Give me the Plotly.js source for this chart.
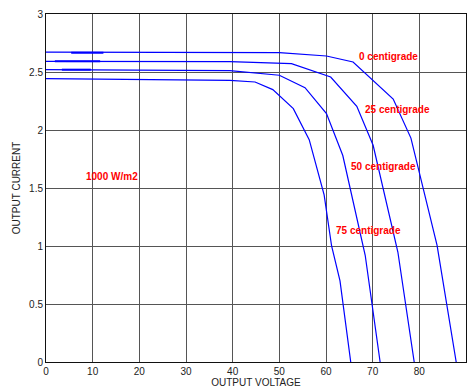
<!DOCTYPE html>
<html>
<head>
<meta charset="utf-8">
<script src="https://cdn.plot.ly/plotly-3.0.1.min.js"></script>
<style>html,body{margin:0;padding:0;background:#fff;}#chart{width:469px;height:389px;}</style>
</head>
<body>
<div id="chart"></div>
<script>
// I-V curves at 1000 W/m2 for four temperatures
var v0  = [0, 39.4, 50, 60.1, 65.8, 74.4, 78.2, 83.8, 87.9];
var i0  = [2.672, 2.667, 2.667, 2.638, 2.586, 2.267, 1.93, 1.006, 0];
var v25 = [0, 39.4, 52.6, 61, 66.6, 70.1, 75.4, 78.9];
var i25 = [2.592, 2.59, 2.572, 2.457, 2.204, 1.868, 0.948, 0];
var v50 = [0, 39.4, 50, 55.5, 60.1, 63.6, 68.4, 71.6];
var i50 = [2.52, 2.512, 2.472, 2.365, 2.141, 1.78, 0.92, 0];
var v75 = [0, 39.4, 44.8, 48.6, 53, 56.4, 59.6, 61.2, 63, 65.3];
var i75 = [2.443, 2.428, 2.414, 2.348, 2.184, 1.917, 1.44, 1.0, 0.70, 0];
// overdrawn (thicker) start segments
var thick0 = [5.4, 12.3];
var thick25 = [1.9, 11.6];
var thick50 = [3.4, 9.6];

var labels = ["0 centigrade", "25 centigrade", "50 centigrade", "75 centigrade", "1000 W/m2"];
var labelX = [73.3, 75.3, 72.4, 69.2, 14.1];
var labelY = [2.635, 2.176, 1.687, 1.133, 1.60];

var xTicks = [0,10,20,30,40,50,60,70,80,90];
var yTicks = [0,0.5,1,1.5,2,2.5,3];
var yTickText = ["0","0.5","1","1.5","2","2.5","3"];

var blue = "#0000ff";
function line(x, y, w) {
  return {x: x, y: y, type: "scatter", mode: "lines", line: {color: blue, width: w}, hoverinfo: "skip", showlegend: false};
}
var traces = [
  line(v0, i0, 1.2), line(v25, i25, 1.2), line(v50, i50, 1.2), line(v75, i75, 1.2),
  line(thick0, [i0[1], i0[1]], 2),
  line(thick25, [i25[0], i25[0]], 2),
  line(thick50, [i50[0], i50[0]], 2)
];

var annotations = labels.map(function(t, k) {
  return {x: labelX[k], y: labelY[k], xref: "x", yref: "y", text: "<b>" + t + "</b>", showarrow: false,
    font: {family: "Liberation Sans, Arial, sans-serif", size: 10, color: "#ff0000"}};
});

var axFont = {family: "Liberation Sans, Arial, sans-serif", size: 10, color: "#222"};
var layout = {
  width: 469, height: 389,
  margin: {l: 46, r: 3, t: 14, b: 27},
  paper_bgcolor: "#fff", plot_bgcolor: "#fff",
  showlegend: false,
  font: axFont,
  xaxis: {
    range: [0, 90], tickvals: xTicks, ticktext: xTicks.map(String),
    showgrid: true, gridcolor: "#555", gridwidth: 1,
    showline: true, linecolor: "#111", linewidth: 1, mirror: true,
    zeroline: false, ticks: "", tickfont: axFont,
    title: {text: "OUTPUT VOLTAGE", font: axFont, standoff: 2}
  },
  yaxis: {
    range: [0, 3], tickvals: yTicks, ticktext: yTickText,
    showgrid: true, gridcolor: "#555", gridwidth: 1,
    showline: true, linecolor: "#111", linewidth: 1, mirror: true,
    zeroline: false, ticks: "", tickfont: axFont,
    title: {text: "OUTPUT CURRENT", font: axFont, standoff: 6}
  },
  annotations: annotations
};
Plotly.newPlot("chart", traces, layout, {displayModeBar: false, staticPlot: true});
</script>
</body>
</html>
